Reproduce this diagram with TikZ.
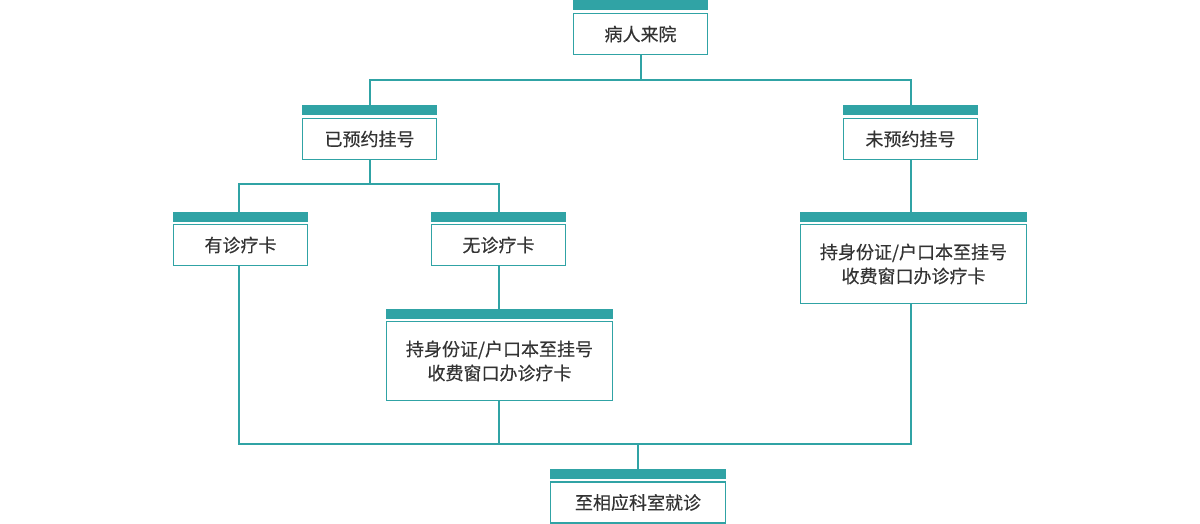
\documentclass[tikz,border=0pt]{standalone}
\usepackage{fontspec}
\usepackage{tikz}
\usetikzlibrary{positioning}
\newfontfamily\cjk[FakeBold=0.35]{Noto Sans CJK SC}
\definecolor{teal}{RGB}{48,163,165}
\definecolor{ink}{RGB}{51,51,51}
\tikzset{%
  flow/.style = {
    x=1pt, y=-1pt,
    every node/.style = {outer sep=0pt, inner sep=0pt},
    box/.style = {shape=rectangle, draw=teal, line width=1.2pt,
      fill=white, align=center, text=ink,
      minimum width=134pt, minimum height=41pt,
      font=\cjk\fontsize{18}{24}\selectfont},
    wide/.style = {minimum width=226pt, minimum height=79pt},
    bar/.style = {shape=rectangle, fill=teal,
      minimum width=135pt, minimum height=10pt},
    link/.style = {draw=teal, line width=2pt}
  }
}
\begin{document}
\begin{tikzpicture}[flow]
  \useasboundingbox (0,0) rectangle (1200,524);
  % boxes
  \node[box] (came) at (640.5,34) {病人来院};
  \node[box] (booked) at (369.5,139) {已预约挂号};
  \node[box] (unbooked) at (910.5,139) {未预约挂号};
  \node[box] (card) at (240.5,245) {有诊疗卡};
  \node[box] (nocard) at (498.5,245) {无诊疗卡};
  \node[box, wide] (applyl) at (499.5,361) {持身份证/户口本至挂号\\收费窗口办诊疗卡};
  \node[box, wide] (applyr) at (913.5,264) {持身份证/户口本至挂号\\收费窗口办诊疗卡};
  \node[box, minimum width=175pt] (dept) at (638,502.5) {至相应科室就诊};
  % header bars
  \node[bar, above=3pt of came] (camebar) {};
  \node[bar, above=3pt of booked] (bookedbar) {};
  \node[bar, above=3pt of unbooked] (unbookedbar) {};
  \node[bar, above=3pt of card] (cardbar) {};
  \node[bar, above=3pt of nocard] (nocardbar) {};
  \node[bar, minimum width=227pt, above=3pt of applyl] (applylbar) {};
  \node[bar, minimum width=227pt, above=3pt of applyr] (applyrbar) {};
  \node[bar, minimum width=176pt, above=3pt of dept] (deptbar) {};
  % connectors
  \path (came.south) ++(0,26) coordinate (j1);
  \path (booked.south) ++(0,25) coordinate (j2);
  \path (deptbar.north) ++(0,-25) coordinate (j3);
  \draw[link] (came.south) -- (j1);
  \draw[link] (bookedbar.north) |- (j1) -| (unbookedbar.north);
  \draw[link] (booked.south) -- (j2);
  \draw[link] ([xshift=-1.5pt]cardbar.north) |- (j2) -| (nocardbar.north);
  \draw[link] (nocard.south) -- (nocard.south |- applylbar.north);
  \draw[link] (unbooked.south) -- (unbooked.south |- applyrbar.north);
  \draw[link] ([xshift=-1.5pt]card.south) |- (j3) -| ([xshift=-2.5pt]applyr.south);
  \draw[link] (nocard.south |- applyl.south) -- (nocard.south |- j3);
  \draw[link] (j3) -- (deptbar.north);
\end{tikzpicture}
\end{document}
